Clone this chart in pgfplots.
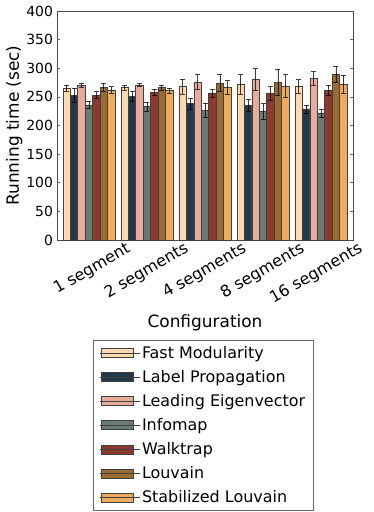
\documentclass[border=0pt]{standalone}
\usepackage{fontspec}
\setmainfont{DejaVu Sans}
\usepackage{pgfplots}
\pgfplotsset{compat=1.18}

\definecolor{cFM}{HTML}{FDD9B0}
\definecolor{cLP}{HTML}{22394A}
\definecolor{cLE}{HTML}{E8AB9C}
\definecolor{cIM}{HTML}{697C74}
\definecolor{cWT}{HTML}{8C3A30}
\definecolor{cLV}{HTML}{9A6B32}
\definecolor{cSL}{HTML}{EDAB5E}

\pgfplotsset{
  mybar/.style={fill=#1, draw=black!75, line width=0.7pt,
    legend image code/.code={\draw[##1] (2bp,-4.5bp) rectangle (34bp,4.5bp);
      \path (0bp,0bp) -- (40bp,0bp);}},
}

\begin{document}
\begin{tikzpicture}
\path[use as bounding box] (0,0) rectangle (374bp,512bp);
\begin{axis}[
    at={(57bp,272bp)}, anchor=south west,
    scale only axis,
    width=296bp, height=229bp,
    ybar=0pt, bar width=0.128,
    xmin=-0.55, xmax=4.55,
    ymin=0, ymax=400,
    ytick={0,50,...,400},
    xtick={0.5,1.5,2.5,3.5,4.5},
    xticklabels={1 segment,2 segments,4 segments,8 segments,16 segments},
    xtick style={draw=none},
    ytick style={black!60, line width=0.6pt},
    major tick length=3bp,
    tick align=inside,
    ytick pos=both,
    axis line style={black!70, line width=0.8pt},
    /pgf/number format/assume math mode=true,
    yticklabel style={font=\fontsize{14}{16}\selectfont, xshift=-0.5bp},
    xticklabel style={font=\fontsize{16}{18}\selectfont, rotate=30, anchor=north east, inner sep=1bp, xshift=7bp, yshift=-3.5bp},
    ylabel={Running time (sec)},
    ylabel style={font=\fontsize{17}{20}\selectfont, yshift=-3bp},
    xlabel={Configuration},
    xlabel style={font=\fontsize{17}{20}\selectfont, at={(axis description cs:0.5,-0.38)}, anchor=base},
    legend cell align=left,
    legend style={at={(0.122,-0.437)}, anchor=north west, draw=black!60,
      font=\fontsize{16}{18}\selectfont, row sep=6.5bp, inner xsep=6bp, inner ysep=4bp},
    error bars/y dir=both, error bars/y explicit,
    error bars/error bar style={black, opacity=0.75, line width=0.7pt},
    error bars/error mark options={rotate=90, mark size=2.5bp, black, opacity=0.75, line width=0.7pt},
]
\addplot[mybar=cFM] coordinates {
  (0,265.5) +- (0,5) (1,266) +- (0,4) (2,268) +- (0,13) (3,272) +- (0,17) (4,268) +- (0,12)};
\addlegendentry{Fast Modularity}
\addplot[mybar=cLP] coordinates {
  (0,253) +- (0,12) (1,251) +- (0,9) (2,238) +- (0,9) (3,235) +- (0,10) (4,229) +- (0,7)};
\addlegendentry{Label Propagation}
\addplot[mybar=cLE] coordinates {
  (0,270) +- (0,3) (1,271) +- (0,2) (2,276) +- (0,13) (3,280) +- (0,19) (4,282) +- (0,12)};
\addlegendentry{Leading Eigenvector}
\addplot[mybar=cIM] coordinates {
  (0,236) +- (0,6) (1,233) +- (0,8) (2,227) +- (0,12) (3,224) +- (0,14) (4,222) +- (0,7)};
\addlegendentry{Infomap}
\addplot[mybar=cWT] coordinates {
  (0,253) +- (0,6) (1,258) +- (0,6) (2,257) +- (0,7) (3,256) +- (0,12) (4,261) +- (0,9)};
\addlegendentry{Walktrap}
\addplot[mybar=cLV] coordinates {
  (0,267) +- (0,7) (1,266) +- (0,5) (2,274) +- (0,15) (3,275) +- (0,23) (4,290) +- (0,14)};
\addlegendentry{Louvain}
\addplot[mybar=cSL] coordinates {
  (0,262) +- (0,6) (1,261) +- (0,4) (2,266) +- (0,12) (3,269) +- (0,20) (4,272) +- (0,16)};
\addlegendentry{Stabilized Louvain}
\end{axis}
\end{tikzpicture}
\end{document}
